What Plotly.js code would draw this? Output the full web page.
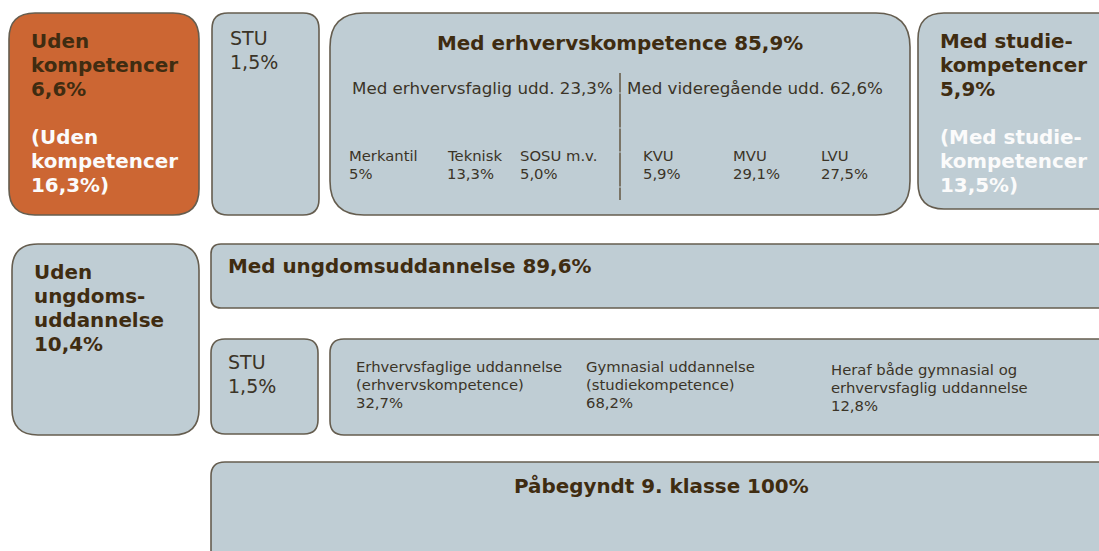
<!DOCTYPE html>
<html>
<head>
<meta charset="utf-8">
<script src="https://cdn.plot.ly/plotly-3.0.1.min.js"></script>
<style>html,body{margin:0;padding:0;background:#fff;overflow:hidden}#chart{width:1099px;height:551px}</style>
</head>
<body>
<div id="chart"></div>
<script>
// ---------- DATA ----------
const outcomeLabels = ["Uden<br>kompetencer", "STU", "Med erhvervskompetence", "Med studie-<br>kompetencer"];
const outcomeValues = [6.6, 1.5, 85.9, 5.9];
const altOutcomeLabels = ["(Uden<br>kompetencer", "(Med studie-<br>kompetencer"];
const altOutcomeValues = [16.3, 13.5];
const erhvGroupLabels = ["Med erhvervsfaglig udd.", "Med videregående udd."];
const erhvGroupValues = [23.3, 62.6];
const erhvSubLabels = ["Merkantil", "Teknisk", "SOSU m.v.", "KVU", "MVU", "LVU"];
const erhvSubValues = [5, 13.3, 5.0, 5.9, 29.1, 27.5];
const erhvSubDecimals = [0, 1, 1, 1, 1, 1];
const youthLabels = ["Uden<br>ungdoms-<br>uddannelse", "Med ungdomsuddannelse"];
const youthValues = [10.4, 89.6];
const youthSubLabels = ["STU", "Erhvervsfaglige uddannelse<br>(erhvervskompetence)", "Gymnasial uddannelse<br>(studiekompetence)", "Heraf både gymnasial og<br>erhvervsfaglig uddannelse"];
const youthSubValues = [1.5, 32.7, 68.2, 12.8];
const baseLabel = "Påbegyndt 9. klasse";
const baseValue = 100;

// ---------- STYLE / LAYOUT ----------
const FONT = "DejaVu Sans, Verdana, sans-serif";
const FILL = "#bfcdd4", ORANGE = "#cc6633", BORDER = "#655d4f";
const BOLDC = "#3f2c11", REGC = "#3b3427", WHITE = "#fbfbfb";
const fmt = (v, d = 1) => v.toFixed(d).replace(".", ",") + "%";

function rrect(x0, y0, x1, y1, r, fill) {
  const p = `M ${x0 + r},${y0} L ${x1 - r},${y0} Q ${x1},${y0} ${x1},${y0 + r} L ${x1},${y1 - r} Q ${x1},${y1} ${x1 - r},${y1} L ${x0 + r},${y1} Q ${x0},${y1} ${x0},${y1 - r} L ${x0},${y0 + r} Q ${x0},${y0} ${x0 + r},${y0} Z`;
  return {type: "path", xref: "x", yref: "y", path: p, fillcolor: fill, line: {color: BORDER, width: 1.6}, layer: "below"};
}

const boxes = [
  [9, 13, 199, 215, 26, ORANGE],
  [212, 13, 319, 215, 16, FILL],
  [330, 13, 910, 215, 34, FILL],
  [918, 13, 1125, 209, 26, FILL],
  [12, 244, 199, 435, 26, FILL],
  [211, 244, 1125, 308, 10, FILL],
  [211, 339, 318, 434, 14, FILL],
  [330, 339, 1125, 435, 14, FILL],
  [211, 462, 1125, 575, 14, FILL]
];
const shapes = boxes.map(b => rrect(...b));
// divider between the two erhvervskompetence groups (drawn in short segments)
[[73, 92.5], [93.5, 127.5], [128.5, 151.5], [152.5, 186.5], [187.5, 200]].forEach(s =>
  shapes.push({type: "line", xref: "x", yref: "y", x0: 620, x1: 620, y0: s[0], y1: s[1], line: {color: "#7a7466", width: 2}}));

const annotations = [];
// text block: lines placed individually with fixed spacing
function block(text, x, yc, size, bold, color, spacing, anchor = "left") {
  const lines = text.split("<br>");
  const n = lines.length;
  lines.forEach((ln, i) => {
    annotations.push({
      xref: "x", yref: "y", x: x, y: yc + (i - (n - 1) / 2) * spacing,
      text: bold ? "<b>" + ln + "</b>" : ln, showarrow: false,
      xanchor: anchor, yanchor: "middle", borderpad: 0,
      font: {family: FONT, size: size, color: color}
    });
  });
}

const BIG = 19.9, BIGSP = 24, STUF = 19, MID = 16.7, SMALL = 14.8, SMSP = 18;
// top row
block(outcomeLabels[0] + "<br>" + fmt(outcomeValues[0]), 30, 65, BIG, true, BOLDC, BIGSP);
block(altOutcomeLabels[0] + "<br>" + fmt(altOutcomeValues[0]) + ")", 30, 161, BIG, true, WHITE, BIGSP);
block(outcomeLabels[1] + "<br>" + fmt(outcomeValues[1]), 229, 50, STUF, false, REGC, BIGSP);
block(outcomeLabels[2] + " " + fmt(outcomeValues[2]), 620, 43, BIG, true, BOLDC, BIGSP, "center");
block(outcomeLabels[3] + "<br>" + fmt(outcomeValues[3]), 939, 65, BIG, true, BOLDC, BIGSP);
block(altOutcomeLabels[1] + "<br>" + fmt(altOutcomeValues[1]) + ")", 939, 161, BIG, true, WHITE, BIGSP);
const groupX = [351, 626];
erhvGroupLabels.forEach((l, i) => block(l + " " + fmt(erhvGroupValues[i]), groupX[i], 88, MID, false, REGC, SMSP));
const subX = [348, 446, 519, 642, 732, 820];
erhvSubLabels.forEach((l, i) => block(l + "<br>" + fmt(erhvSubValues[i], erhvSubDecimals[i]), subX[i], 164, SMALL, false, REGC, SMSP));
// middle rows
block(youthLabels[0] + "<br>" + fmt(youthValues[0]), 33, 308, BIG, true, BOLDC, BIGSP);
block(youthLabels[1] + " " + fmt(youthValues[1]), 227, 266, BIG, true, BOLDC, BIGSP);
block(youthSubLabels[0] + "<br>" + fmt(youthSubValues[0]), 227, 374, STUF, false, REGC, BIGSP);
const ysX = [355, 585, 830], ysY = [384, 384, 387];
youthSubLabels.slice(1).forEach((l, i) => block(l + "<br>" + fmt(youthSubValues[i + 1]), ysX[i], ysY[i], SMALL, false, REGC, SMSP));
// base
block(baseLabel + " " + fmt(baseValue, 0), 661, 486, BIG, true, BOLDC, BIGSP, "center");

const layout = {
  width: 1099, height: 551,
  margin: {l: 0, r: 0, t: 0, b: 0, pad: 0},
  paper_bgcolor: "#ffffff", plot_bgcolor: "#ffffff",
  xaxis: {range: [0, 1099], visible: false, fixedrange: true},
  yaxis: {range: [551, 0], visible: false, fixedrange: true},
  showlegend: false,
  shapes: shapes,
  annotations: annotations
};
Plotly.newPlot("chart", [], layout, {staticPlot: true, displayModeBar: false});
</script>
</body>
</html>
